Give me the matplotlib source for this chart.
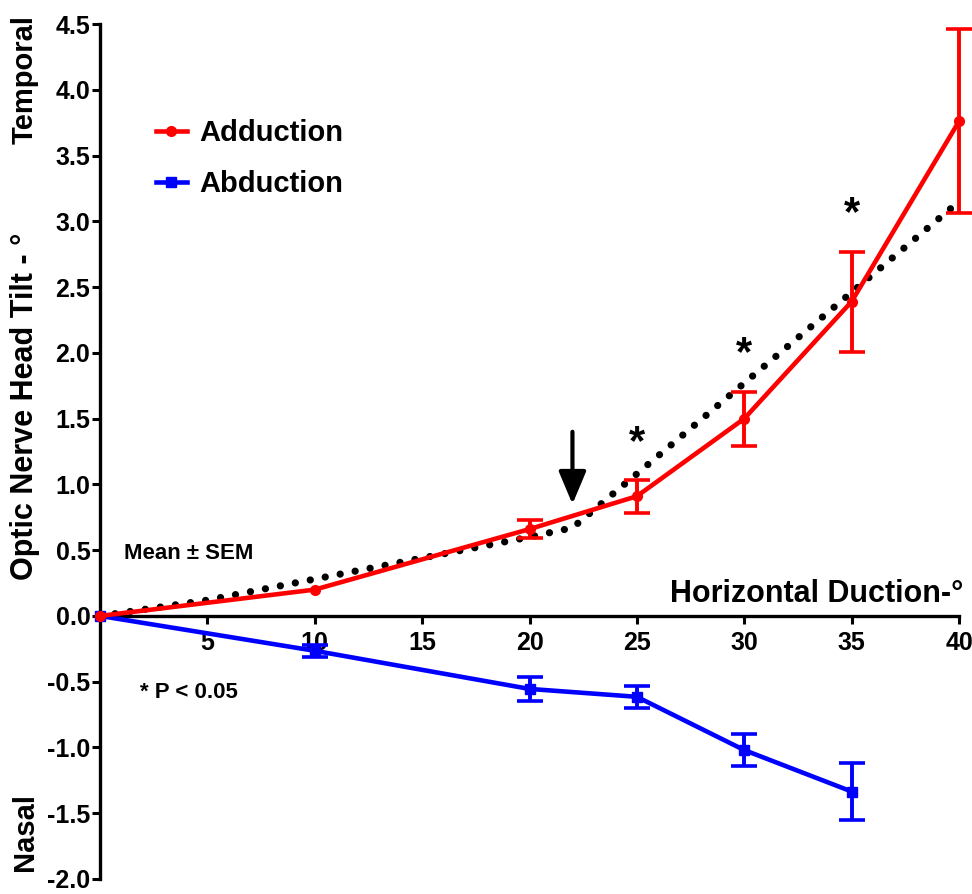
import matplotlib
matplotlib.use("Agg")
import matplotlib.pyplot as plt
from matplotlib.lines import Line2D

plt.rcParams['font.family'] = ['Liberation Sans', 'DejaVu Sans']
plt.rcParams['font.weight'] = 'bold'
plt.rcParams['axes.unicode_minus'] = False

# ---- data ----
adduction_x = [0, 10, 20, 25, 30, 35, 40]
adduction_mean = [0.0, 0.20, 0.66, 0.91, 1.50, 2.39, 3.76]
adduction_sem = [0.0, 0.0, 0.07, 0.125, 0.205, 0.38, 0.70]

abduction_x = [0, 10, 20, 25, 30, 35]
abduction_mean = [0.0, -0.265, -0.555, -0.615, -1.02, -1.335]
abduction_sem = [0.0, 0.045, 0.09, 0.085, 0.12, 0.215]

fit_x = [0, 5, 10, 15, 20, 22, 25, 30, 35, 40]
fit_y = [0.0, 0.12, 0.28, 0.44, 0.60, 0.67, 1.08, 1.77, 2.46, 3.15]

star_x = [25, 30, 35]
star_y = [1.40, 2.08, 3.14]

arrow_x = 22.0
arrow_top, arrow_bottom = 1.40, 0.85

xticks = [5, 10, 15, 20, 25, 30, 35, 40]
yticks = [-2.0, -1.5, -1.0, -0.5, 0.0, 0.5, 1.0, 1.5, 2.0, 2.5, 3.0, 3.5, 4.0, 4.5]

RED, BLUE = '#ff0000', '#0000ff'

W, H = 972, 894
fig = plt.figure(figsize=(W / 100, H / 100), dpi=100)
ax = fig.add_axes([100 / W, 1 - 879 / H, (959 - 100) / W, (879 - 24) / H])

# dotted fit line
ax.plot(fit_x, fit_y, color='black', lw=5.2, linestyle=(0, (0.01, 2.1)),
        dash_capstyle='round', zorder=2, clip_on=False)


def draw_series(xs, ms, es, color, marker, z):
    ax.plot(xs, ms, color=color, lw=3.3, marker=marker, markersize=7,
            zorder=z, clip_on=False)
    ex = [x for x, e in zip(xs, es) if e > 0]
    ey = [m for m, e in zip(ms, es) if e > 0]
    ee = [e for e in es if e > 0]
    ax.errorbar(ex, ey, yerr=ee, fmt='none', ecolor=color, elinewidth=2.8,
                capsize=9.5, capthick=2.6, zorder=z, clip_on=False)


draw_series(abduction_x, abduction_mean, abduction_sem, BLUE, 's', 3)
draw_series(adduction_x, adduction_mean, adduction_sem, RED, 'o', 4)

# asterisks
for sx, sy in zip(star_x, star_y):
    ax.text(sx, sy - 0.17, '*', fontsize=30, ha='center', va='baseline',
            color='black')

# arrow
ax.annotate('', xy=(arrow_x, arrow_bottom), xytext=(arrow_x, arrow_top),
            arrowprops=dict(arrowstyle='-|>,head_length=1.0,head_width=0.42',
                            mutation_scale=20, lw=3, color='black',
                            shrinkA=0, shrinkB=0))

# axes styling
ax.set_xlim(0, 40)
ax.set_ylim(-2.0, 4.5)
ax.spines['top'].set_visible(False)
ax.spines['right'].set_visible(False)
ax.spines['bottom'].set_position(('data', 0))
for s in ('left', 'bottom'):
    ax.spines[s].set_linewidth(2.4)
ax.set_xticks(xticks)
ax.set_xticklabels([str(v) for v in xticks])
ax.set_yticks(yticks)
ax.set_yticklabels(['%.1f' % v for v in yticks])
ax.tick_params(axis='both', direction='out', length=6, width=2.2,
               labelsize=18)
ax.tick_params(axis='y', pad=1)
ax.tick_params(axis='x', pad=5)
for lab in ax.get_xticklabels() + ax.get_yticklabels():
    lab.set_fontweight('bold')

ax.text(40.2, 0.106, 'Horizontal Duction-°', fontsize=22, ha='right',
        va='baseline', clip_on=False)
ax.text(1.12, 0.43, 'Mean ± SEM', fontsize=16, ha='left', va='baseline')
ax.text(1.86, -0.626, '* P < 0.05', fontsize=16, ha='left', va='baseline')

handles = [
    Line2D([], [], color=RED, lw=3.3, marker='o', markersize=7),
    Line2D([], [], color=BLUE, lw=3.3, marker='s', markersize=7),
]
leg = ax.legend(handles, ['Adduction', 'Abduction'], loc='upper left',
                bbox_to_anchor=(156 / W, 1 - 119 / H),
                bbox_transform=fig.transFigure, frameon=False, fontsize=21,
                handlelength=1.05, handletextpad=0.45, labelspacing=0.8,
                borderaxespad=0, borderpad=0)
for t in leg.get_texts():
    t.set_fontweight('bold')

# outside y labels
fig.text(25 / W, 1 - 80 / H, 'Temporal', rotation=90, fontsize=21,
         ha='center', va='center')
fig.text(25 / W, 1 - 406 / H, 'Optic Nerve Head Tilt - °', rotation=90,
         fontsize=22, ha='center', va='center')
fig.text(25 / W, 1 - 832 / H, 'Nasal', rotation=90, fontsize=21,
         ha='center', va='center')

fig.savefig('out.png', dpi=100)
